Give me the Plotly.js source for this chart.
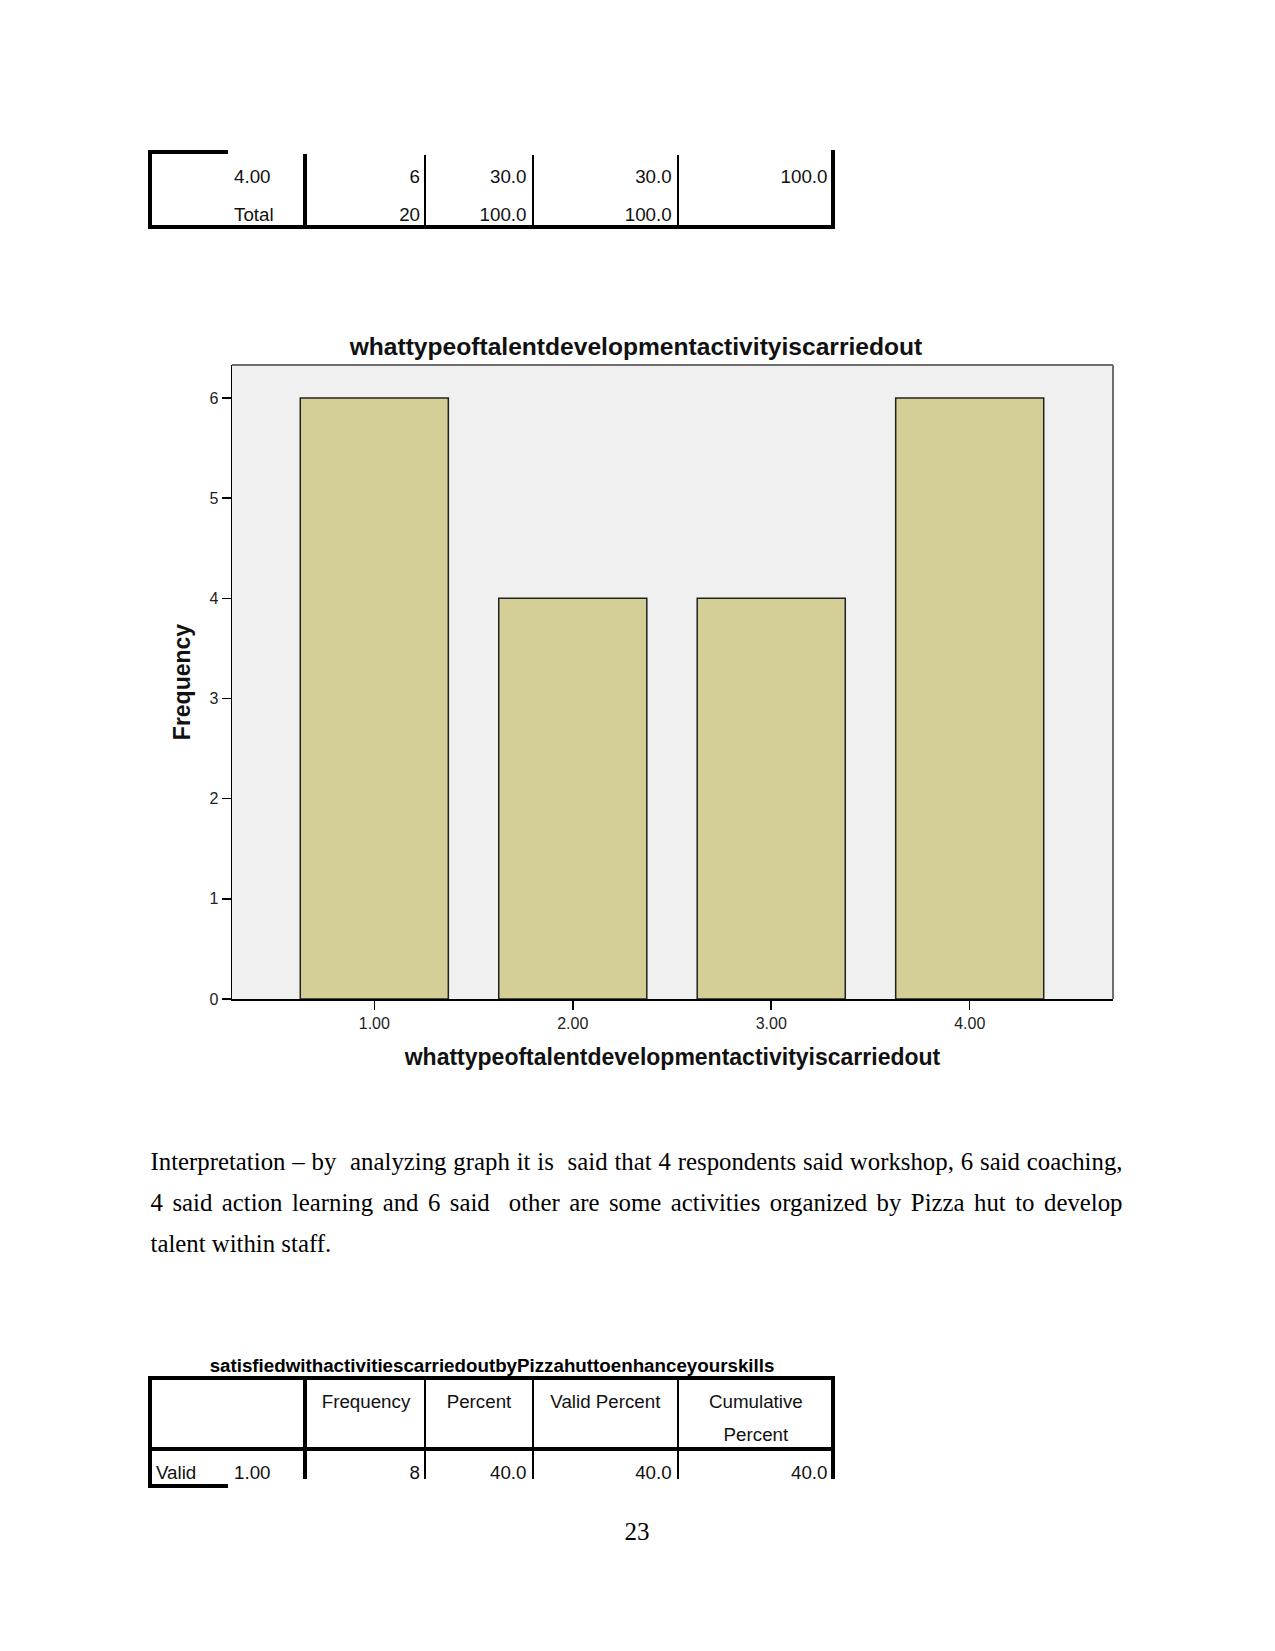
<!DOCTYPE html>
<html>
<head>
<meta charset="utf-8">
<script src="https://cdn.plot.ly/plotly-3.0.1.min.js"></script>
<style>
  html, body { margin:0; padding:0; background:#fff; }
  #page { position:relative; width:1275px; height:1651px; background:#fff; overflow:hidden; }
  .ln { position:absolute; background:#000; }
  .t { position:absolute; font-family:"Liberation Sans", Arial, sans-serif; font-size:18.75px; color:#111; height:24px; line-height:24px; white-space:nowrap; }
  .r { text-align:right; }
  .c { text-align:center; }
  .p { position:absolute; left:150.5px; width:972px; font-family:"Liberation Serif","Times New Roman",serif; font-size:24.8px; color:#000; height:30px; line-height:30px; white-space:nowrap; }
  .j { text-align:justify; text-align-last:justify; }
  #chart { position:absolute; left:0; top:300px; width:1275px; height:790px; }
</style>
</head>
<body>
<div id="page">
  <!-- Table 1 (continued from previous page) -->
  <div class="ln" style="left:148.3px;top:150.3px;width:79.4px;height:4px;"></div>
  <div class="ln" style="left:148.3px;top:150.3px;width:4px;height:78.7px;"></div>
  <div class="ln" style="left:302.7px;top:154px;width:4px;height:75px;"></div>
  <div class="ln" style="left:424.3px;top:155px;width:2px;height:72px;"></div>
  <div class="ln" style="left:531.7px;top:155px;width:2px;height:72px;"></div>
  <div class="ln" style="left:677px;top:155px;width:2px;height:72px;"></div>
  <div class="ln" style="left:831px;top:150.3px;width:4px;height:78.7px;"></div>
  <div class="ln" style="left:148.3px;top:224.5px;width:686.7px;height:4px;"></div>
  <div class="t" style="left:234px;top:165px;">4.00</div>
  <div class="t r" style="left:320px;width:100px;top:165px;">6</div>
  <div class="t r" style="left:426px;width:100.5px;top:165px;">30.0</div>
  <div class="t r" style="left:571px;width:100.7px;top:165px;">30.0</div>
  <div class="t r" style="left:727px;width:100.5px;top:165px;">100.0</div>
  <div class="t" style="left:234px;top:202.7px;">Total</div>
  <div class="t r" style="left:320px;width:100px;top:202.7px;">20</div>
  <div class="t r" style="left:426px;width:100.5px;top:202.7px;">100.0</div>
  <div class="t r" style="left:571px;width:100.7px;top:202.7px;">100.0</div>

  <!-- Chart -->
  <div id="chart"></div>

  <!-- Interpretation -->
  <div class="p j" style="top:1147px;">Interpretation – by&nbsp; analyzing graph it is&nbsp; said that 4 respondents said workshop, 6 said coaching,</div>
  <div class="p j" style="top:1188.3px;">4 said action learning and 6 said&nbsp; other are some activities organized by Pizza hut to develop</div>
  <div class="p" style="top:1229.3px;">talent within staff.</div>

  <!-- Table 2 -->
  <div class="t c" style="left:150px;width:684px;top:1353.5px;font-weight:bold;color:#000;">satisfiedwithactivitiescarriedoutbyPizzahuttoenhanceyourskills</div>
  <div class="ln" style="left:148.3px;top:1376px;width:686.7px;height:4px;"></div>
  <div class="ln" style="left:148.3px;top:1376px;width:4px;height:112.3px;"></div>
  <div class="ln" style="left:148.3px;top:1447px;width:686.7px;height:4px;"></div>
  <div class="ln" style="left:302.7px;top:1376px;width:4px;height:103.3px;"></div>
  <div class="ln" style="left:424.3px;top:1376px;width:2px;height:103.3px;"></div>
  <div class="ln" style="left:531.7px;top:1376px;width:2px;height:103.3px;"></div>
  <div class="ln" style="left:677px;top:1376px;width:2px;height:103.3px;"></div>
  <div class="ln" style="left:831px;top:1376px;width:4px;height:103.3px;"></div>
  <div class="ln" style="left:148.3px;top:1484.3px;width:79.4px;height:4px;"></div>
  <div class="t c" style="left:306.7px;width:118.6px;top:1390px;">Frequency</div>
  <div class="t c" style="left:425.3px;width:107.4px;top:1390px;">Percent</div>
  <div class="t c" style="left:532.7px;width:145.3px;top:1390px;">Valid Percent</div>
  <div class="t c" style="left:678px;width:155.8px;top:1390px;">Cumulative</div>
  <div class="t c" style="left:678px;width:155.8px;top:1423px;">Percent</div>
  <div class="t" style="left:156px;top:1461px;">Valid</div>
  <div class="t" style="left:234px;top:1461px;">1.00</div>
  <div class="t r" style="left:320px;width:100px;top:1461px;">8</div>
  <div class="t r" style="left:426px;width:100.5px;top:1461px;">40.0</div>
  <div class="t r" style="left:571px;width:100.7px;top:1461px;">40.0</div>
  <div class="t r" style="left:727px;width:100.5px;top:1461px;">40.0</div>

  <!-- Page number -->
  <div style="position:absolute;left:587px;width:100px;top:1517px;height:30px;line-height:30px;text-align:center;font-family:'Liberation Serif','Times New Roman',serif;font-size:25px;color:#000;">23</div>
</div>

<script>
const chartTitle = 'whattypeoftalentdevelopmentactivityiscarriedout';
const categories = ['1.00', '2.00', '3.00', '4.00'];
const frequencies = [6, 4, 4, 6];
const yTickValues = [0, 1, 2, 3, 4, 5, 6];
const yAxisLabel = 'Frequency';

const trace = {
  type: 'bar',
  x: categories,
  y: frequencies,
  marker: { color: '#d3cf97', line: { color: '#222222', width: 1.5 } },
  hoverinfo: 'none'
};

const layout = {
  width: 1275,
  height: 790,
  margin: { l: 231.7, r: 162, t: 65, b: 90.7, pad: 0 },
  paper_bgcolor: 'rgba(0,0,0,0)',
  plot_bgcolor: '#f0f0f0',
  bargap: 0.254,
  showlegend: false,
  font: { family: 'Liberation Sans, Arial, sans-serif', color: '#222' },
  title: {
    text: chartTitle,
    font: { family: 'Liberation Sans, Arial, sans-serif', size: 24.6, weight: 'bold', color: '#111' },
    xref: 'container', x: 0.4988, xanchor: 'center',
    yref: 'container', y: 0.9418, yanchor: 'middle'
  },
  xaxis: {
    type: 'category',
    range: [-0.717, 3.722],
    showline: true, linecolor: '#000', linewidth: 1.5,
    ticks: 'outside', ticklen: 9, tickcolor: '#000', tickwidth: 1.5,
    tickfont: { family: 'Liberation Sans, Arial, sans-serif', size: 16, color: '#222' },
    showgrid: false, zeroline: false,
    title: { text: chartTitle, standoff: 18,
      font: { family: 'Liberation Sans, Arial, sans-serif', size: 23, weight: 'bold', color: '#111' } }
  },
  yaxis: {
    range: [0, 6.33],
    tickvals: yTickValues,
    showline: true, linecolor: '#000', linewidth: 1.5,
    ticks: 'outside', ticklen: 9, tickcolor: '#000', tickwidth: 1.5,
    tickfont: { family: 'Liberation Sans, Arial, sans-serif', size: 16, color: '#222' },
    showgrid: false, zeroline: false,
    title: { text: yAxisLabel, standoff: 12,
      font: { family: 'Liberation Sans, Arial, sans-serif', size: 23, weight: 'bold', color: '#111' } }
  },
  shapes: [
    { type: 'line', xref: 'paper', yref: 'paper', x0: 0, x1: 1, y0: 1, y1: 1, line: { color: '#6f6f6f', width: 2 } },
    { type: 'line', xref: 'paper', yref: 'paper', x0: 1, x1: 1, y0: 0, y1: 1, line: { color: '#6f6f6f', width: 2 } }
  ]
};

Plotly.newPlot('chart', [trace], layout, { staticPlot: true, displayModeBar: false });
</script>
</body>
</html>
